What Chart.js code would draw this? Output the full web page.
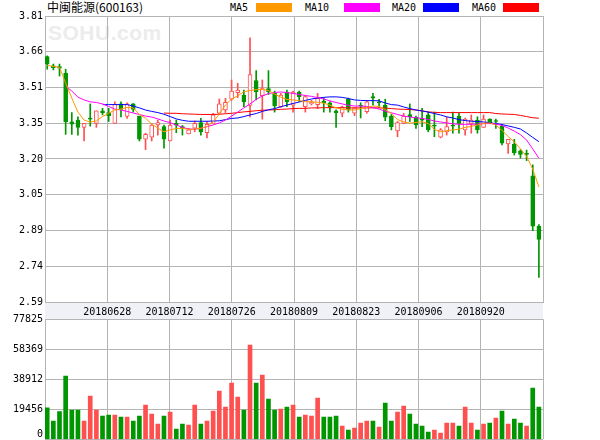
<!DOCTYPE html>
<html>
<head>
<meta charset="utf-8">
<script src="https://cdn.jsdelivr.net/npm/chart.js@4.4.1/dist/chart.umd.min.js"></script>
<style>
  html, body { margin: 0; padding: 0; background: #fff; }
  #wrap { position: relative; width: 600px; height: 440px; overflow: hidden; }
  #wrap canvas { position: absolute; left: 0; z-index: 2; }
  #kline { top: 0; }
  #vol { top: 302px; }
  .txt { position: absolute; top: 1px; font: 10px 'DejaVu Sans Mono', monospace; line-height: 14px; color: #000; white-space: nowrap; }
  #title { left: 47px; top: -1px; font: 12px 'Noto Sans CJK SC', sans-serif; line-height: 16px; }
  .sw { position: absolute; top: 3px; width: 36px; height: 9px; }
  #logo { position: absolute; left: 48px; top: 21px; z-index: 1; font: bold 21px 'Liberation Sans', Arial, sans-serif; color: #ececec; letter-spacing: 0.5px; }
</style>
</head>
<body>
<div id="wrap">
  <div id="logo">SOHU.com</div>
  <div id="title" class="txt">中闽能源(600163)</div>
  <div class="txt" style="left:230px">MA5</div>
  <div class="sw" style="left:256px;background:#ff9900"></div>
  <div class="txt" style="left:305px">MA10</div>
  <div class="sw" style="left:344px;background:#ff00ff"></div>
  <div class="txt" style="left:392px">MA20</div>
  <div class="sw" style="left:423px;background:#0000ff"></div>
  <div class="txt" style="left:472px">MA60</div>
  <div class="sw" style="left:503px;background:#ff0000"></div>
  <canvas id="kline" width="600" height="320"></canvas>
  <canvas id="vol" width="600" height="138"></canvas>
</div>

<script>
// =====================================================
// DATA
// =====================================================
const dateLabels = ['', '20180628', '20180712', '20180726', '20180809', '20180823', '20180906', '20180920', ''];

const priceTicks  = [2.59, 2.7425, 2.895, 3.0475, 3.20, 3.3525, 3.505, 3.6575, 3.81];
const priceLabels = ['2.59', '2.74', '2.89', '3.05', '3.20', '3.35', '3.51', '3.66', '3.81'];

const volTicks  = [0, 19456.25, 38912.5, 58368.75, 77825];
const volLabels = ['0', '19456', '38912', '58369', '77825'];

const opens = [
  3.637, 3.597, 3.594, 3.566, 3.359, 3.366, 3.335, 3.370, 3.352, 3.405,
  3.398, 3.352, 3.435, 3.382, 3.435, 3.383, 3.285, 3.293, 3.345, 3.338,
  3.277, 3.352, 3.338, 3.307, 3.331, 3.355, 3.312, 3.350, 3.395, 3.409,
  3.455, 3.483, 3.473, 3.429, 3.534, 3.470, 3.500, 3.480, 3.423, 3.485,
  3.430, 3.485, 3.423, 3.435, 3.432, 3.447, 3.440, 3.406, 3.395, 3.455,
  3.395, 3.425, 3.402, 3.466, 3.440, 3.430, 3.383, 3.320, 3.352, 3.390,
  3.378, 3.372, 3.388, 3.340, 3.293, 3.316, 3.340, 3.383, 3.324, 3.352,
  3.366, 3.335, 3.370, 3.360, 3.340, 3.264, 3.264, 3.235, 3.220, 3.128,
  2.914
];
const highs = [
  3.640, 3.605, 3.605, 3.583, 3.398, 3.380, 3.352, 3.435, 3.405, 3.416,
  3.416, 3.444, 3.444, 3.440, 3.437, 3.383, 3.310, 3.350, 3.366, 3.345,
  3.366, 3.366, 3.343, 3.331, 3.362, 3.374, 3.360, 3.395, 3.456, 3.459,
  3.537, 3.523, 3.494, 3.717, 3.577, 3.537, 3.577, 3.490, 3.480, 3.494,
  3.490, 3.490, 3.470, 3.450, 3.480, 3.460, 3.445, 3.410, 3.425, 3.460,
  3.420, 3.440, 3.450, 3.480, 3.455, 3.455, 3.390, 3.360, 3.395, 3.435,
  3.383, 3.416, 3.400, 3.400, 3.330, 3.378, 3.400, 3.395, 3.375, 3.388,
  3.380, 3.388, 3.372, 3.370, 3.345, 3.284, 3.284, 3.240, 3.238, 3.175,
  2.920
];
const lows = [
  3.583, 3.580, 3.554, 3.305, 3.305, 3.302, 3.277, 3.340, 3.335, 3.388,
  3.360, 3.352, 3.380, 3.373, 3.400, 3.277, 3.240, 3.277, 3.302, 3.246,
  3.277, 3.312, 3.302, 3.307, 3.316, 3.302, 3.290, 3.350, 3.390, 3.398,
  3.450, 3.462, 3.423, 3.379, 3.452, 3.370, 3.475, 3.400, 3.420, 3.423,
  3.400, 3.445, 3.400, 3.430, 3.415, 3.400, 3.400, 3.335, 3.380, 3.400,
  3.385, 3.375, 3.395, 3.430, 3.420, 3.363, 3.324, 3.295, 3.350, 3.360,
  3.330, 3.338, 3.316, 3.295, 3.290, 3.302, 3.310, 3.310, 3.302, 3.310,
  3.310, 3.335, 3.352, 3.330, 3.260, 3.224, 3.217, 3.203, 3.193, 2.894,
  2.695
];
const closes = [
  3.605, 3.590, 3.587, 3.359, 3.349, 3.335, 3.352, 3.370, 3.405, 3.398,
  3.385, 3.433, 3.412, 3.435, 3.412, 3.285, 3.305, 3.345, 3.355, 3.285,
  3.345, 3.344, 3.331, 3.324, 3.352, 3.316, 3.348, 3.388, 3.435, 3.442,
  3.490, 3.494, 3.444, 3.560, 3.487, 3.500, 3.487, 3.426, 3.473, 3.444,
  3.485, 3.466, 3.466, 3.442, 3.459, 3.440, 3.420, 3.398, 3.423, 3.408,
  3.418, 3.425, 3.444, 3.459, 3.440, 3.378, 3.338, 3.355, 3.383, 3.380,
  3.345, 3.366, 3.324, 3.340, 3.324, 3.338, 3.340, 3.352, 3.370, 3.366,
  3.324, 3.370, 3.355, 3.360, 3.267, 3.284, 3.227, 3.220, 3.220, 2.914,
  2.857
];
const volumes = [
  20490, 11870, 17900, 41050, 19000, 19000, 11870, 28080, 19000, 15110,
  15760, 15760, 14460, 14460, 11870, 15110, 22240, 16410, 9920, 15110,
  17700, 6680, 9920, 9270, 22240, 9920, 11870, 18350, 31320, 20950,
  36510, 27430, 19000, 61150, 36510, 41700, 26130, 19000, 19650, 20950,
  22240, 14460, 15760, 15110, 26780, 14460, 14460, 15110, 8620, 6030,
  7330, 10570, 11870, 11870, 7980, 23540, 11870, 17700, 21600, 16410,
  9920, 8620, 4730, 6030, 4090, 10570, 10570, 8620, 20950, 10570,
  6030, 9920, 10570, 13810, 18350, 9920, 13160, 10570, 8620, 33270,
  20950
];

const ma5 = [
  3.599, 3.595, 3.591, 3.524, 3.460, 3.400, 3.366, 3.357, 3.363, 3.381,
  3.395, 3.409, 3.413, 3.420, 3.418, 3.390, 3.374, 3.349, 3.332, 3.316,
  3.324, 3.330, 3.331, 3.326, 3.328, 3.331, 3.338, 3.358, 3.392, 3.430,
  3.456, 3.469, 3.487, 3.492, 3.496, 3.497, 3.492, 3.477, 3.464, 3.454,
  3.452, 3.449, 3.445, 3.444, 3.442, 3.438, 3.430, 3.418, 3.413, 3.410,
  3.409, 3.415, 3.420, 3.426, 3.424, 3.411, 3.394, 3.368, 3.358, 3.353,
  3.356, 3.359, 3.351, 3.326, 3.316, 3.321, 3.324, 3.327, 3.335, 3.339,
  3.345, 3.352, 3.354, 3.345, 3.322, 3.296, 3.273, 3.243, 3.211, 3.157,
  3.081
];
const ma10 = [
  null, null, null, 3.511, 3.490, 3.464, 3.452, 3.444, 3.441, 3.435,
  3.424, 3.413, 3.409, 3.403, 3.396, 3.390, 3.383, 3.379, 3.371, 3.362,
  3.355, 3.345, 3.335, 3.328, 3.327, 3.331, 3.338, 3.345, 3.354, 3.366,
  3.383, 3.400, 3.418, 3.435, 3.454, 3.469, 3.479, 3.484, 3.486, 3.483,
  3.480, 3.475, 3.471, 3.467, 3.462, 3.456, 3.448, 3.441, 3.435, 3.429,
  3.426, 3.426, 3.424, 3.419, 3.413, 3.404, 3.397, 3.390, 3.383, 3.379,
  3.376, 3.373, 3.369, 3.362, 3.358, 3.354, 3.350, 3.348, 3.348, 3.348,
  3.349, 3.351, 3.351, 3.349, 3.343, 3.332, 3.319, 3.304, 3.281, 3.243,
  3.203
];
const ma20 = [
  null, null, null, null, null, null, null, null, null, 3.432,
  3.432, 3.432, 3.432, 3.432, 3.426, 3.418, 3.409, 3.403, 3.398, 3.391,
  3.381, 3.371, 3.365, 3.361, 3.361, 3.361, 3.361, 3.362, 3.363, 3.368,
  3.373, 3.375, 3.381, 3.388, 3.394, 3.403, 3.410, 3.415, 3.423, 3.430,
  3.437, 3.443, 3.450, 3.456, 3.460, 3.463, 3.465, 3.465, 3.463, 3.458,
  3.452, 3.450, 3.449, 3.449, 3.448, 3.439, 3.432, 3.430, 3.422, 3.415,
  3.409, 3.405, 3.400, 3.394, 3.388, 3.380, 3.375, 3.368, 3.364, 3.361,
  3.360, 3.358, 3.355, 3.351, 3.347, 3.341, 3.335, 3.328, 3.311, 3.292,
  3.274
];
const ma60 = [
  null, null, null, null, null, null, null, null, null, null,
  null, null, null, null, null, null, null, null, null, 3.396,
  3.395, 3.395, 3.393, 3.392, 3.391, 3.390, 3.390, 3.390, 3.391, 3.393,
  3.395, 3.398, 3.401, 3.403, 3.406, 3.408, 3.409, 3.410, 3.412, 3.413,
  3.415, 3.416, 3.416, 3.418, 3.418, 3.419, 3.419, 3.419, 3.419, 3.418,
  3.418, 3.418, 3.418, 3.418, 3.418, 3.417, 3.415, 3.413, 3.412, 3.411,
  3.409, 3.405, 3.401, 3.399, 3.398, 3.398, 3.398, 3.398, 3.398, 3.398,
  3.398, 3.398, 3.398, 3.394, 3.392, 3.391, 3.390, 3.386, 3.381, 3.376,
  3.374
];

// =====================================================
// GAYA
// =====================================================
const RED = '#ff5050';
const GREEN = '#009600';
const GRID = '#b4b4b4';
const X_MIN = -0.36;
const X_MAX = 80.67;

Chart.defaults.font.family = "'DejaVu Sans Mono', monospace";
Chart.defaults.font.size = 10;
Chart.defaults.color = '#000';

const idx = closes.map((_, i) => i);
const naik = idx.map(i => closes[i] > opens[i]);
const warnaLilin = idx.map(i => naik[i] ? RED : GREEN);
const isiLilin = idx.map(i => naik[i] ? '#ffffff' : GREEN);
const warnaVolume = idx.map(i => closes[i] >= opens[i] ? RED : GREEN);

function xScale(showLabels) {
    return {
        type: 'linear',
        min: X_MIN,
        max: X_MAX,
        offset: false,
        afterBuildTicks: axis => {
            axis.ticks = dateLabels.map((_, k) => ({
                value: X_MIN + (X_MAX - X_MIN) * k / (dateLabels.length - 1)
            }));
        },
        afterFit: axis => { axis.height = showLabels ? 18 : 0; },
        grid: { color: GRID, drawTicks: false, offset: false },
        border: { color: GRID, display: showLabels },
        ticks: {
            display: showLabels,
            autoSkip: false,
            maxRotation: 0,
            padding: 4,
            callback: (v, k) => dateLabels[k]
        }
    };
}

function garisMA(label, data, warna) {
    return {
        type: 'line',
        label: label,
        data: idx.map(i => ({ x: i, y: data[i] })),
        borderColor: warna,
        borderWidth: 1,
        pointRadius: 0,
        fill: false,
        order: 1
    };
}

// Latar abu-abu untuk pita tanggal
const pitaTanggal = {
    id: 'pitaTanggal',
    beforeDraw(chart) {
        const { ctx, chartArea: a } = chart;
        ctx.save();
        ctx.fillStyle = '#eff1f7';
        ctx.fillRect(a.left, a.bottom, a.right - a.left, chart.height - a.bottom);
        ctx.restore();
    }
};

// Label sumbu volume (label 0 digeser agar tidak terpotong)
const labelVolume = {
    id: 'labelVolume',
    afterDraw(chart) {
        const { ctx } = chart;
        const y = chart.scales.y;
        ctx.save();
        ctx.font = "10px 'DejaVu Sans Mono', monospace";
        ctx.fillStyle = '#000';
        ctx.textAlign = 'right';
        ctx.textBaseline = 'middle';
        y.ticks.forEach((t, k) => {
            const py = Math.min(y.getPixelForValue(t.value), chart.height - 6);
            ctx.fillText(volLabels[k], y.right - 2, py);
        });
        ctx.restore();
    }
};

// =====================================================
// GRAFIK HARGA (K-LINE)
// =====================================================
new Chart(document.getElementById('kline'), {
    type: 'bar',
    data: {
        datasets: [
            garisMA('MA5', ma5, '#ff9900'),
            garisMA('MA10', ma10, '#ff00ff'),
            garisMA('MA20', ma20, '#0000ff'),
            garisMA('MA60', ma60, '#ff0000'),
            {
                type: 'bar',
                label: 'badan',
                data: idx.map(i => ({ x: i, y: [opens[i], closes[i]] })),
                backgroundColor: isiLilin,
                borderColor: warnaLilin,
                borderWidth: 1,
                borderSkipped: false,
                barThickness: 4,
                minBarLength: 1,
                grouped: false,
                order: 2
            },
            {
                type: 'bar',
                label: 'sumbu',
                data: idx.map(i => ({ x: i, y: [lows[i], highs[i]] })),
                backgroundColor: warnaLilin,
                borderWidth: 0,
                barThickness: 1,
                grouped: false,
                order: 3
            }
        ]
    },
    options: {
        responsive: false,
        animation: false,
        devicePixelRatio: 1,
        events: [],
        layout: { padding: { top: 16, right: 57, left: 0, bottom: 0 } },
        plugins: { legend: { display: false }, tooltip: { enabled: false } },
        scales: {
            x: xScale(true),
            y: {
                type: 'linear',
                min: 2.59,
                max: 3.81,
                afterBuildTicks: axis => {
                    axis.ticks = priceTicks.map(v => ({ value: v }));
                },
                afterFit: axis => { axis.width = 45; },
                grid: { color: GRID, drawTicks: false },
                border: { color: GRID },
                ticks: {
                    padding: 2,
                    callback: (v, k) => priceLabels[k]
                }
            }
        }
    },
    plugins: [pitaTanggal]
});

// =====================================================
// GRAFIK VOLUME
// =====================================================
new Chart(document.getElementById('vol'), {
    type: 'bar',
    data: {
        datasets: [{
            label: 'Volume',
            data: idx.map(i => ({ x: i, y: volumes[i] })),
            backgroundColor: warnaVolume,
            borderWidth: 0,
            barThickness: 4,
            grouped: false
        }]
    },
    options: {
        responsive: false,
        animation: false,
        devicePixelRatio: 1,
        events: [],
        layout: { padding: { top: 17.3, right: 57, left: 0, bottom: 0.7 } },
        plugins: { legend: { display: false }, tooltip: { enabled: false } },
        scales: {
            x: xScale(false),
            y: {
                type: 'linear',
                min: 0,
                max: 77825,
                afterBuildTicks: axis => {
                    axis.ticks = volTicks.map(v => ({ value: v }));
                },
                afterFit: axis => { axis.width = 45; },
                grid: { color: GRID, drawTicks: false },
                border: { color: GRID },
                ticks: { display: false }
            }
        }
    },
    plugins: [labelVolume]
});
</script>
</body>
</html>
